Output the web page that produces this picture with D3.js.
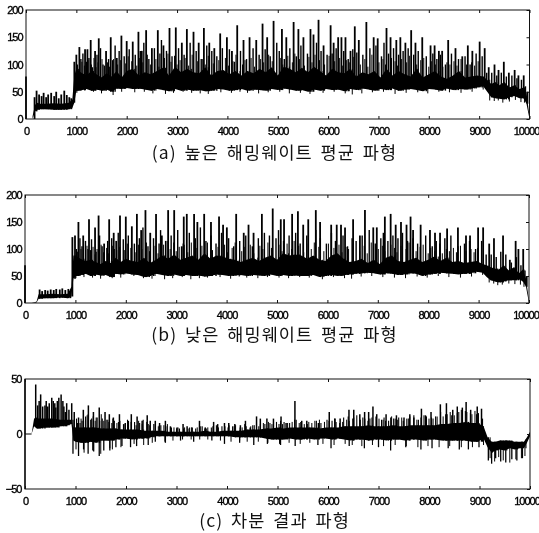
<!DOCTYPE html>
<html><head><meta charset="utf-8">
<script src="https://cdn.jsdelivr.net/npm/d3@7"></script>
<style>
html,body{margin:0;padding:0;background:#fff;overflow:hidden}
svg{display:block;filter:blur(.3px)}
.tick text{font-family:"Liberation Sans",Arial,sans-serif;font-size:11px;letter-spacing:-1px;fill:#000;stroke:#000;stroke-width:.35px}
.cap{font-family:"Noto Sans CJK KR",sans-serif;font-size:17.5px;fill:#111;letter-spacing:1.1px;text-anchor:middle;word-spacing:2.8px}
</style></head><body><svg id="c" width="539" height="533"></svg>
<script>
const xTicks=[0,1000,2000,3000,4000,5000,6000,7000,8000,9000,10000];
const captionA="(a) 높은 해밍웨이트 평균 파형";
const captionB="(b) 낮은 해밍웨이트 평균 파형";
const captionC="(c) 차분 결과 파형";
const bandX=[130,180,230,270,400,550,700,850,920,960,1000,1100,1200,1300,1400,1500,1600,1700,1800,1900,2000,2120,2240,2360,2480,2600,2720,2840,2960,3080,3200,3320,3440,3560,3680,3800,3920,4040,4160,4280,4400,4520,4640,4760,4880,5000,5120,5240,5360,5480,5600,5720,5840,5960,6080,6200,6320,6440,6560,6680,6800,6920,7040,7160,7280,7400,7520,7640,7760,7880,8000,8120,8240,8360,8480,8600,8720,8840,8960,9080,9160,9240,9320,9400,9500,9600,9700,9800,9880,9940,10000];
const aLow=[0,14,17,18,18,17,17,18,20,30,52,53,55,52,54,52,54,50,56,55,57,55,56,54,52,55,53,51,55,52,54,52,53,51,52,55,54,52,53,55,52,54,53,52,55,53,56,54,52,53,50,54,52,55,53,54,51,55,53,56,54,52,55,53,56,52,54,55,53,51,55,54,52,56,53,55,54,56,58,60,50,40,38,37,36,40,42,38,38,28,0];
const aHigh=[5,26,30,28,28,29,28,30,36,80,92,85,80,88,82,76,84,78,88,76,88,92,80,86,82,88,94,80,96,86,92,86,84,95,80,88,90,82,88,80,88,84,92,86,95,80,96,92,86,94,86,96,88,80,92,86,84,92,78,86,82,88,76,92,80,88,82,78,92,76,82,88,78,74,80,88,76,78,80,78,72,64,68,62,68,58,62,55,58,48,5];
const aPeakX=[0,170,210,260,310,350,400,440,500,560,600,650,700,760,810,860,900,960,1000,1060,1173,1220,1285,1372,1445,1590,1683,1803,1895,2000,2120,2233,2300,2386,2500,2618,2730,2850,2975,3095,3195,3327,3430,3533,3640,3740,3857,3990,4090,4195,4320,4440,4573,4698,4790,4917,5083,5170,5315,5410,5510,5650,5710,5810,5910,6050,6110,6200,6265,6345,6445,6530,6610,6760,6905,6985,7160,7240,7355,7435,7535,7650,7735,7870,8035,8115,8200,8265,8385,8530,8665,8775,8865,9010,9110,9190,9305,9385,9490,9590,9705,9780,9885,9960];
const aPeakY=[78,40,52,45,42,48,40,45,48,42,50,38,45,52,44,40,38,105,118,132,128,128,145,125,148,125,150,112,153,143,142,160,125,163,130,163,135,167,168,140,165,160,140,167,140,130,157,150,125,172,145,150,145,175,150,180,165,150,178,165,150,165,155,182,135,172,140,150,150,150,125,170,145,178,150,148,167,150,145,150,140,163,140,150,135,135,125,125,145,130,115,135,125,142,130,95,100,90,105,85,90,80,80,50];
const bLow=[0,0,1,8,9,9,10,9,12,45,50,52,54,50,53,51,52,48,54,53,55,53,52,48,50,54,52,50,53,50,52,50,51,49,50,53,52,50,51,52,50,52,51,50,53,50,52,50,51,50,50,52,48,50,52,50,52,53,54,55,56,55,53,55,54,52,53,55,54,50,53,54,56,55,54,53,54,55,58,56,48,42,40,38,40,42,42,44,40,30,0];
const bHigh=[0,1,3,16,16,17,16,17,30,88,88,82,78,80,76,72,78,74,84,76,82,78,76,84,74,80,88,82,90,80,84,88,80,92,82,88,86,82,80,76,80,84,78,84,88,80,92,88,90,88,82,88,80,78,88,92,82,76,78,82,74,80,72,84,88,78,76,80,84,76,80,86,78,84,76,78,74,76,78,72,70,66,64,62,70,60,66,55,62,45,5];
const bPeakX=[0,290,340,400,450,510,570,620,690,740,800,860,900,940,992,1060,1155,1270,1390,1460,1570,1670,1760,1810,1885,2000,2120,2220,2305,2390,2485,2600,2715,2840,2960,3110,3150,3210,3355,3420,3555,3690,3850,3930,4005,4190,4340,4435,4535,4700,4915,5075,5140,5300,5415,5520,5620,5770,5855,6075,6185,6270,6350,6510,6645,6745,6910,6980,7140,7255,7355,7460,7570,7650,7700,7850,8035,8135,8235,8375,8590,8750,8830,8990,9090,9210,9305,9485,9620,9735,9790,9885,9955];
const bPeakY=[70,25,22,24,23,25,24,26,25,27,24,26,22,122,125,150,125,155,140,162,110,155,130,115,162,160,142,165,135,172,130,165,125,172,172,105,160,165,165,150,165,150,160,145,140,165,130,145,130,165,175,155,155,165,170,145,155,172,150,145,145,145,140,155,125,172,140,140,160,165,145,150,145,160,135,145,135,130,130,138,140,125,125,140,140,110,120,125,80,115,100,100,50];
const midX=[1020,1090,1130,1200,1250,1320,1410,1480,1530,1640,1720,1770,1850,1950,2050,2170,2270,2340,2440,2550,2660,2690,2790,2900,3030,3140,3260,3380,3480,3590,3690,3790,3900,4040,4140,4260,4380,4510,4630,4750,4850,4980,5030,5130,5240,5370,5460,5590,5770,5860,5980,6080,6160,6310,6400,6490,6570,6690,6830,6950,7060,7110,7200,7300,7400,7490,7590,7700,7790,7950,8080,8160,8230,8330,8450,8590,8720,8820,8940,9060,9150,9250,9350,9440,9540,9650,9750,9840,9920];
const aMid=[100,110,120,105,112,95,118,130,100,110,108,135,125,115,128,118,125,140,110,130,120,145,125,115,130,118,140,125,110,135,125,115,130,128,105,125,110,130,118,128,115,140,125,110,130,115,135,120,140,125,118,120,130,125,110,128,122,118,130,135,115,140,120,130,118,125,130,118,125,115,120,110,118,100,120,110,115,100,120,115,85,85,80,85,78,80,75,72,60];
const bMid=[100,120,105,115,100,118,95,125,105,115,120,100,130,118,125,110,120,140,105,120,110,135,115,125,135,110,130,120,140,115,125,110,130,120,105,115,125,105,120,130,125,120,135,115,125,130,110,125,135,120,110,130,115,125,105,120,115,125,135,110,120,130,115,125,120,130,115,120,110,125,105,115,110,120,125,105,110,115,100,115,90,90,85,95,90,75,85,70,60];
const fillX=[1040,1110,1160,1230,1300,1350,1390,1430,1510,1560,1620,1660,1740,1820,1880,1980,2030,2100,2200,2250,2320,2410,2470,2580,2640,2750,2820,2880,2950,3000,3060,3160,3230,3300,3410,3510,3560,3620,3720,3830,3960,4020,4110,4170,4300,4350,4470,4540,4660,4720,4820,4890,5060,5100,5200,5290,5340,5430,5530,5620,5680,5740,5830,5930,6020,6130,6230,6290,6370,6420,6510,6640,6730,6790,6870,7010,7090,7140,7260,7330,7380,7460,7560,7620,7760,7840,7900,8000,8050,8130,8280,8360,8420,8500,8560,8640,8750,8850,8910,8980];
const aFill=[92,105,98,108,100,112,95,104,110,98,104,96,110,100,108,102,115,106,98,112,104,118,100,110,96,112,120,105,116,100,108,112,98,118,106,110,100,116,102,108,112,98,106,118,100,108,112,96,110,104,118,106,112,100,116,104,120,110,98,114,104,118,108,100,116,106,112,98,108,104,114,100,110,96,118,104,110,100,112,106,98,110,104,116,100,108,112,96,106,100,96,104,100,106,98,110,100,104,98,106];
const bFill=[95,100,92,106,98,104,90,100,108,94,102,92,106,98,104,98,110,102,94,108,100,112,96,106,92,108,115,100,112,96,104,108,94,112,102,106,96,112,98,104,108,94,102,112,96,104,108,92,106,100,112,102,108,96,110,100,115,106,94,110,100,112,104,96,110,102,108,94,104,100,110,96,106,92,112,100,106,96,108,102,94,106,100,112,96,104,108,92,102,96,92,100,96,102,94,106,96,100,94,102];
const cFill=[10,14,12,17,13,16,12,15,18,12,13,11,14,10,12,9,13,11,8,12,9,11,8,9,7,8,9,6,6,5,5,6,5,6,6,7,5,6,7,6,7,6,7,8,6,9,7,8,9,10,11,9,12,9,10,11,13,10,9,11,10,12,13,11,12,14,10,11,13,12,15,13,14,12,15,14,13,12,16,14,13,15,14,16,13,15,17,14,15,16,16,18,20,17,19,22,20,18,21,19];
const dipX=[1010,1170,1340,1500,1680,1730,1900,2160,2350,2520,2770,2930,3120,3290,3460,3620,3870,4080,4250,4400,4620,4810,5040,5230,5450,5640,5900,6120,6340,6480,6670,6880,7100,7330,7550,7780,7980,8200,8410,8640,8860,9080,9210,9300,9380,9470,9600,9720,9830,9900];
const aDip=[48,52,50,47,50,44,50,49,50,47,46,48,50,48,47,46,49,48,50,48,47,49,50,47,48,46,48,50,47,45,47,49,50,46,48,49,47,50,49,48,50,54,34,33,34,30,32,35,31,30];
const bDip=[46,48,47,45,48,46,47,50,46,45,44,46,48,44,46,47,48,45,49,47,46,48,47,46,48,47,44,48,46,45,49,50,48,47,46,49,47,50,48,47,49,52,38,36,33,34,36,35,34,30];
const cLow=[0,7,5,5,6,6,7,8,9,-6,-7,-8,-8,-7,-8,-6,-6,-6,-5,-4,-4,-5,-4,-4,-3,-2,-2,-2,-2,-2,-2,-2,-2,-2,-2,-2,-2,-2,-3,-3,-3,-3,-3,-4,-5,-5,-5,-4,-5,-5,-4,-5,-4,-4,-5,-4,-5,-6,-5,-5,-6,-5,-5,-6,-5,-5,-6,-5,-5,-6,-5,-5,-6,-6,-6,-6,-6,-7,-7,-4,-12,-17,-15,-14,-15,-13,-14,-13,-13,-8,-2];
const cHigh=[0,14,15,14,14,14,13,13,13,6,6,6,6,6,6,5,5,5,5,4,4,4,4,3,3,3,3,2,2,2,2,2,2,3,2,2,3,3,3,3,4,4,4,5,5,6,5,6,6,6,6,6,5,6,6,6,7,7,7,7,8,7,7,7,8,7,7,8,8,8,8,8,9,9,10,10,11,10,10,7,-3,-7,-7,-6,-6,-6,-7,-7,-7,-3,2];
const cPeakX=[0,212,310,395,450,530,590,640,715,770,825,925,975,1060,1155,1255,1355,1470,1585,1670,1750,1870,1985,2105,2220,2320,2420,2480,2580,2665,2780,2880,3010,3130,3210,3310,3455,3570,3735,3815,3950,4035,4155,4265,4365,4460,4585,4660,4790,4920,5070,5170,5345,5480,5580,5810,6025,6140,6240,6415,6510,6630,6725,6805,6890,6965,7150,7245,7355,7505,7620,7700,7850,7930,8040,8225,8345,8470,8560,8660,8735,8825,8955,9040,250,280,350,420,480,560,610,670,750,800,870];
const cPeakY=[50,45,36,26,25,33,28,30,36,25,28,28,20,15,22,26,20,24,20,18,15,18,10,18,16,12,17,12,12,10,12,7,6,9,7,6,12,6,11,9,10,10,9,8,12,6,16,14,14,14,16,10,30,12,12,10,20,14,14,22,22,18,20,20,25,18,18,15,17,15,18,15,23,17,20,27,28,22,25,24,29,22,25,23,26,30,25,30,28,30,24,33,30,20,22];
const cMid=[14,10,12,16,18,14,15,12,14,13,10,12,11,9,12,11,10,13,9,9,8,8,7,6,6,5,6,5,7,5,6,8,7,8,7,6,7,8,7,9,10,11,9,11,10,13,11,9,12,10,13,12,11,15,16,14,17,15,14,16,13,15,12,14,15,12,14,17,13,16,14,16,20,18,17,20,21,19,18,14,-4,-8,-7,-8,-6,-7,-9,-8,-5];
const cDipX=[0,950,1060,1160,1250,1360,1470,1560,1680,1800,1920,2090,2210,2440,2580,2780,3080,3340,3700,3950,4250,4530,4800,5060,5350,5800,6060,6420,6720,7000,7240,7540,7840,8060,8380,8600,8780,8990,9175,9240,9320,9420,9520,9640,9740,9850];
const cDipY=[-50,-18,-20,-14,-18,-16,-20,-15,-15,-12,-11,-12,-11,-10,-7,-8,-6,-7,-6,-9,-8,-10,-9,-10,-11,-10,-13,-11,-13,-12,-15,-12,-14,-13,-13,-14,-14,-12,-24,-27,-22,-25,-26,-23,-24,-22];
const cDip2=[-14,-17,-15,-18,-13,-14,-12,-9,-10,-8,-7,-6,-5,-5,-5,-5,-6,-7,-6,-7,-7,-8,-9,-8,-9,-8,-9,-10,-9,-10,-11,-10,-11,-10,-11,-12,-11,-12,-11,-12,-12,-10,-22,-25,-21,-24,-26,-23,-22,-20];
const zeroLeadX=[0,130];
const svg=d3.select("#c");
function lookup(xs,ys,x){const i=Math.min(ys.length-1,Math.max(0,d3.bisectRight(xs,x)-1));return ys[i];}
function panel(o){
 const x=d3.scaleLinear().domain([0,10000]).range([o.l,o.r]);
 const y=d3.scaleLinear().domain(o.dom).range([o.b,o.t]);
 const g=svg.append("g");
 const rows=bandX.map((v,i)=>({x:v,lo:o.low[i],hi:o.high[i]}));
 g.append("path").datum(rows).attr("fill","#000").attr("d",d3.area().x(d=>x(d.x)).y0(d=>y(d.lo)).y1(d=>y(d.hi)));
 const rule=(xs,ys,base,w)=>g.append("g").selectAll("line").data(xs).join("line")
   .attr("x1",d=>x(d)).attr("x2",d=>x(d)).attr("y1",d=>y(lookup(bandX,base,d))).attr("y2",(d,i)=>y(ys[i]))
   .attr("stroke","#000").attr("stroke-width",w);
 rule(o.px,o.py,o.low,o.w);
 rule(midX,o.mid,o.low,o.w-.4);
 rule(fillX,o.fill,o.low,1);
 rule(dipX,o.dip,o.high,1);
 if(o.dx) rule(o.dx,o.dy,o.high,1.3);
 if(o.lead) g.append("path").datum(o.lead).attr("fill","none").attr("stroke","#000").attr("d",d3.line().x(d=>x(d)).y(()=>y(0)));
 const ax=(a,tr,sz,lab,ticks)=>{const s=g.append("g").attr("transform",tr).call(a.tickValues(ticks).tickSize(sz).tickPadding(5).tickFormat(lab?d3.format("d"):""));
   s.selectAll("line").attr("stroke","#111").attr("stroke-width",1);return s;};
 ax(d3.axisBottom(x),`translate(0,${o.b})`,-3,true,xTicks).selectAll("text").attr("dy","1.0em").attr("dx",d=>d===10000?-3.5:0);
 ax(d3.axisTop(x),`translate(0,${o.t})`,-3,false,xTicks);
 ax(d3.axisLeft(y),`translate(${o.l},0)`,0,true,o.yt).selectAll("text").attr("dx",1.5);
 ax(d3.axisRight(y),`translate(${o.r},0)`,-3,false,o.yt);
 g.selectAll(".domain").remove();
 g.append("rect").attr("x",o.l).attr("y",o.t).attr("width",o.r-o.l).attr("height",o.b-o.t).attr("fill","none").attr("stroke","#111").attr("stroke-width",1);
 svg.append("text").attr("class","cap").attr("x",o.cx).attr("y",o.cy).text(o.cap);
}
panel({l:26,r:529.5,t:10,b:119,dom:[0,200],yt:[0,50,100,150,200],low:aLow,high:aHigh,px:aPeakX,py:aPeakY,mid:aMid,fill:aFill,dip:aDip,w:1.8,cap:captionA,cx:274.5,cy:159});
panel({l:25,r:529,t:195,b:303,dom:[0,200],yt:[0,50,100,150,200],low:bLow,high:bHigh,px:bPeakX,py:bPeakY,mid:bMid,fill:bFill,dip:bDip,w:1.8,cap:captionB,cx:274.5,cy:341});
panel({l:25,r:530,t:379,b:489,dom:[-50,50],yt:[-50,0,50],low:cLow,high:cHigh,px:cPeakX,py:cPeakY,mid:cMid,fill:cFill,dip:cDip2,dx:cDipX,dy:cDipY,w:1.5,lead:zeroLeadX,cap:captionC,cx:274.5,cy:527});
</script></body></html>
